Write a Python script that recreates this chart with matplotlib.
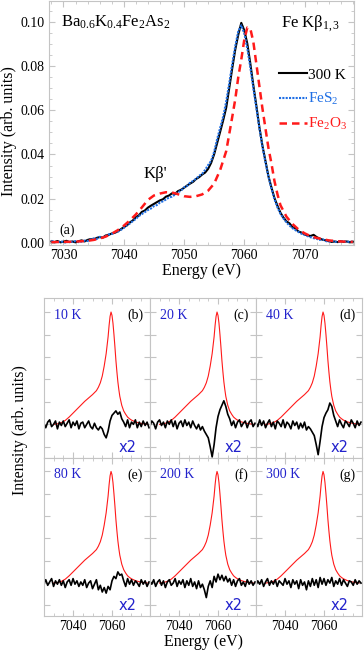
import numpy as np
import matplotlib
matplotlib.use("Agg")
import matplotlib.pyplot as plt
from matplotlib.ticker import MultipleLocator, NullFormatter

plt.rcParams["font.family"] = "serif"
plt.rcParams["font.serif"] = ["Liberation Serif", "DejaVu Serif"]
plt.rcParams["mathtext.fontset"] = "custom"
plt.rcParams["mathtext.rm"] = "Liberation Serif"
plt.rcParams["mathtext.it"] = "Liberation Serif:italic"

# ---- panel (a): Fe Kbeta spectra, 0.5 eV grid 7028..7078 ----
energy_a = np.arange(7028.0, 7078.01, 0.5)
bkfa_300K = [
    0.0006, 0.0003, 0.0008, 0.0002, 0.0005, 0.0009, 0.0003, 0.0006, 0.0002, 0.0007,
    0.0011, 0.0006, 0.0013, 0.0017, 0.0014, 0.0022, 0.0026, 0.0023, 0.0033, 0.0036,
    0.0042, 0.0045, 0.0052, 0.0061, 0.0071, 0.0078, 0.0092, 0.0101, 0.0116, 0.0124,
    0.0140, 0.0146, 0.0159, 0.0168, 0.0176, 0.0184, 0.0192, 0.0197, 0.0209, 0.0214,
    0.0224, 0.0221, 0.0234, 0.0240, 0.0249, 0.0259, 0.0268, 0.0276, 0.0289, 0.0297,
    0.0309, 0.0318, 0.0335, 0.0362, 0.0401, 0.0452, 0.0503, 0.0555, 0.0612, 0.0700,
    0.0790, 0.0875, 0.0942, 0.0996, 0.0962, 0.0902, 0.0812, 0.0713, 0.0621, 0.0524,
    0.0441, 0.0372, 0.0302, 0.0251, 0.0203, 0.0168, 0.0136, 0.0114, 0.0097, 0.0088,
    0.0071, 0.0064, 0.0051, 0.0046, 0.0038, 0.0033, 0.0031, 0.0036, 0.0026, 0.0019,
    0.0014, 0.0011, 0.0008, 0.0004, 0.0006, 0.0003, 0.0007, 0.0004, 0.0006, 0.0003,
    0.0005,
]
fes2 = [
    0.0009, 0.0004, 0.0002, 0.0007, 0.0003, 0.0001, 0.0006, 0.0004, 0.0008, 0.0003,
    0.0005, 0.0010, 0.0008, 0.0015, 0.0020, 0.0017, 0.0027, 0.0025, 0.0030, 0.0038,
    0.0040, 0.0047, 0.0050, 0.0058, 0.0067, 0.0080, 0.0087, 0.0098, 0.0108, 0.0121,
    0.0130, 0.0139, 0.0148, 0.0155, 0.0166, 0.0171, 0.0182, 0.0188, 0.0196, 0.0205,
    0.0209, 0.0218, 0.0229, 0.0236, 0.0251, 0.0257, 0.0272, 0.0280, 0.0290, 0.0303,
    0.0312, 0.0330, 0.0352, 0.0371, 0.0412, 0.0470, 0.0521, 0.0572, 0.0640, 0.0722,
    0.0810, 0.0890, 0.0958, 0.0985, 0.0948, 0.0880, 0.0795, 0.0700, 0.0610, 0.0520,
    0.0436, 0.0366, 0.0300, 0.0246, 0.0198, 0.0160, 0.0131, 0.0110, 0.0092, 0.0078,
    0.0066, 0.0057, 0.0049, 0.0041, 0.0036, 0.0030, 0.0025, 0.0021, 0.0018, 0.0013,
    0.0016, 0.0008, 0.0005, 0.0010, 0.0003, 0.0007, 0.0004, 0.0009, 0.0003, 0.0006,
    0.0004,
]
energy_fe2o3 = [
    7028, 7030, 7032, 7034, 7035, 7036, 7037, 7038, 7039, 7040, 7041, 7042, 7043,
    7044, 7045, 7046, 7047, 7048, 7049, 7050, 7051, 7052, 7053, 7054, 7055, 7056,
    7057, 7058, 7058.5, 7059, 7059.5, 7060, 7060.5, 7061, 7061.5, 7062, 7062.5,
    7063, 7063.5, 7064, 7064.5, 7065, 7065.5, 7066, 7067, 7068, 7069, 7070, 7071,
    7072, 7073, 7074, 7075, 7076, 7078,
]
fe2o3 = [
    0.0003, 0.0004, 0.0005, 0.0009, 0.0013, 0.0019, 0.0028, 0.0041, 0.0057, 0.0077,
    0.0101, 0.0128, 0.0160, 0.0194, 0.0214, 0.0223, 0.0229, 0.0228, 0.0220, 0.0211,
    0.0208, 0.0211, 0.0219, 0.0236, 0.0268, 0.0330, 0.0415, 0.0570, 0.0650, 0.0750,
    0.0830, 0.0920, 0.0975, 0.0970, 0.0910, 0.0810, 0.0710, 0.0610, 0.0520, 0.0430,
    0.0360, 0.0280, 0.0220, 0.0170, 0.0118, 0.0085, 0.0060, 0.0043, 0.0030, 0.0022,
    0.0016, 0.0011, 0.0008, 0.0006, 0.0004,
]

# ---- panels (b)-(g): normalised spectrum (red) and difference x2 (black) ----
energy_norm = [
    7030, 7032, 7034, 7036, 7038, 7040, 7042, 7044, 7046, 7048, 7050, 7052, 7053,
    7054, 7055, 7056, 7057, 7058, 7058.5, 7059, 7059.5, 7060, 7060.5, 7061, 7061.5,
    7062, 7062.5, 7063, 7063.5, 7064, 7064.5, 7065, 7066, 7067, 7068, 7069, 7070,
    7072, 7074, 7076, 7078,
]
spec_norm = [
    0.00, 0.005, 0.015, 0.035, 0.065, 0.10, 0.135, 0.17, 0.205, 0.235, 0.265, 0.30,
    0.33, 0.37, 0.43, 0.52, 0.63, 0.78, 0.88, 0.96, 1.00, 0.97, 0.90, 0.80, 0.69,
    0.57, 0.47, 0.38, 0.31, 0.25, 0.21, 0.17, 0.12, 0.09, 0.065, 0.05, 0.038, 0.022,
    0.012, 0.005, 0.002,
]
energy_diff = np.arange(7025, 7080)
diff = {
    "10 K": [
        0.01, -0.03, 0.02, 0.04, -0.02, 0.00, 0.03, -0.04, 0.02, -0.01,
        0.03, -0.02, 0.01, 0.04, -0.03, 0.02, -0.01, 0.03, -0.04, 0.01,
        0.02, -0.03, 0.00, 0.03, -0.02, -0.04, 0.01, -0.03, -0.05, -0.02,
        -0.04, -0.09, -0.12, -0.06, 0.03, 0.08, 0.10, 0.12, 0.09, 0.11,
        0.05, 0.02, -0.02, 0.04, -0.03, 0.02, 0.00, 0.04, -0.03, 0.02,
        -0.02, 0.03, -0.01, 0.02, -0.03,
    ],
    "20 K": [
        -0.02, 0.03, 0.01, -0.04, 0.02, 0.04, -0.01, 0.02, -0.03, 0.03,
        0.00, 0.04, -0.02, 0.03, -0.04, 0.01, 0.03, -0.02, 0.04, -0.01,
        0.02, -0.03, 0.03, -0.01, -0.04, 0.00, -0.05, -0.02, -0.06, -0.09,
        -0.12, -0.20, -0.29, -0.18, -0.03, 0.07, 0.13, 0.17, 0.21, 0.16,
        0.09, 0.05, -0.01, 0.03, -0.03, 0.02, 0.04, -0.02, 0.01, 0.03,
        -0.03, 0.02, 0.04, -0.02, 0.01,
    ],
    "40 K": [
        0.02, -0.02, 0.04, -0.01, 0.03, -0.03, 0.01, 0.04, -0.02, 0.02,
        -0.04, 0.03, 0.01, -0.02, 0.04, -0.03, 0.02, 0.00, -0.04, 0.03,
        -0.01, 0.02, -0.04, 0.01, -0.03, 0.02, -0.05, -0.02, -0.04, -0.07,
        -0.10, -0.18, -0.27, -0.15, -0.02, 0.06, 0.10, 0.13, 0.19, 0.16,
        0.08, 0.03, -0.02, 0.04, 0.00, -0.03, 0.03, 0.01, -0.02, 0.04,
        0.01, -0.03, 0.03, -0.01, 0.02,
    ],
    "80 K": [
        -0.01, 0.03, -0.02, 0.01, 0.04, -0.03, 0.02, -0.01, 0.03, -0.02,
        0.02, -0.04, 0.01, 0.03, -0.02, 0.04, -0.01, 0.02, -0.03, 0.01,
        -0.02, 0.03, -0.04, 0.00, 0.02, -0.05, -0.01, 0.03, -0.06, -0.02,
        -0.08, -0.04, -0.09, -0.03, -0.06, 0.02, 0.06, 0.04, 0.10, 0.07,
        0.08, 0.02, -0.03, 0.04, -0.01, 0.03, -0.02, 0.02, 0.00, -0.03,
        0.03, -0.01, 0.02, -0.03, 0.01,
    ],
    "200 K": [
        0.02, -0.01, 0.03, -0.03, 0.01, 0.03, -0.02, 0.02, -0.04, 0.01,
        0.03, -0.02, 0.00, 0.04, -0.03, 0.02, -0.01, 0.03, -0.04, 0.02,
        -0.02, 0.04, -0.03, 0.01, -0.05, 0.02, -0.04, -0.01, -0.06, -0.13,
        -0.03, 0.02, -0.04, 0.06, 0.01, 0.08, 0.03, 0.07, 0.02, 0.06,
        0.01, 0.04, -0.02, 0.03, -0.03, 0.02, 0.04, -0.02, 0.01, -0.03,
        0.03, -0.01, 0.02, -0.02, 0.01,
    ],
    "300 K": [
        -0.02, 0.02, -0.01, 0.03, -0.03, 0.01, 0.04, -0.02, 0.02, -0.01,
        0.03, -0.03, 0.02, 0.00, -0.02, 0.04, -0.01, 0.02, -0.04, 0.03,
        -0.01, 0.02, -0.05, 0.03, -0.02, 0.01, -0.06, 0.02, -0.03, 0.04,
        -0.02, 0.03, -0.04, 0.05, -0.01, 0.04, -0.02, 0.03, 0.00, 0.05,
        -0.03, 0.02, -0.01, 0.04, -0.02, 0.03, 0.00, -0.03, 0.02, 0.01,
        -0.02, 0.03, -0.01, 0.02, 0.00,
    ],
}
panel_tags = ["(b)", "(c)", "(d)", "(e)", "(f)", "(g)"]

W, H = 364, 653
fig = plt.figure(figsize=(W / 100, H / 100), dpi=100)
FRAME = "#c4c4c4"
BLUE_TXT = "#2222cc"


def px_axes(left, top, right, bottom):
    return fig.add_axes([left / W, 1 - bottom / H, (right - left) / W, (bottom - top) / H])


def style(ax):
    for s in ax.spines.values():
        s.set_color(FRAME)
    ax.tick_params(which="both", direction="in", top=True, right=True, color=FRAME,
                   labelsize=10, pad=3)
    ax.tick_params(which="major", length=4)
    ax.tick_params(which="minor", length=2)


# top panel
ax = px_axes(49, 1, 354, 245)
style(ax)
ax.plot(energy_a, bkfa_300K, color="black", lw=1.5, label="300 K")
ax.plot(energy_a, fes2, color="#1f6fe5", lw=1.5, ls=(0, (1, 0.6)), label="FeS$_2$")
ax.plot(energy_fe2o3, fe2o3, color="#ff1a1a", lw=1.8, ls=(0, (3, 2)), label="Fe$_2$O$_3$")
ax.set_xlim(7027.6, 7078.2)
ax.set_ylim(-0.001, 0.1095)
ax.xaxis.set_major_locator(MultipleLocator(10))
ax.xaxis.set_minor_locator(MultipleLocator(2))
ax.yaxis.set_major_locator(MultipleLocator(0.02))
ax.yaxis.set_minor_locator(MultipleLocator(0.005))
ax.yaxis.set_major_formatter(matplotlib.ticker.FormatStrFormatter("%.2f"))
leg = ax.legend(loc="upper left", bbox_to_anchor=(0.755, 0.725), frameon=False,
                fontsize=11, handlelength=1.8, handletextpad=0.1, labelspacing=0.6,
                borderpad=0, borderaxespad=0)
for t, c in zip(leg.get_texts(), ["black", "#1f6fe5", "#ff1a1a"]):
    t.set_color(c)
ax.text(0.04, 0.95, r"Ba$_{0.6}$K$_{0.4}$Fe$_2$As$_2$", transform=ax.transAxes,
        fontsize=12, va="top", ha="left")
ax.text(0.76, 0.95, r"Fe Kβ$_{1,3}$", transform=ax.transAxes, fontsize=12,
        va="top", ha="left")
ax.text(7045.2, 0.031, "Kβ'", fontsize=12, ha="center", va="center")
ax.text(7030.6, 0.0057, "(a)", fontsize=10, ha="center", va="center")
fig.text(202 / W, 1 - 271 / H, "Energy (eV)", fontsize=11.5, ha="center", va="center")
fig.text(9 / W, 1 - 131 / H, "Intensity (arb. units)", fontsize=11.5, ha="center",
         va="center", rotation=90)

# bottom 2x3 grid
col_edges = [44, 150, 256, 362]
row_edges = [298, 457.5, 616]
temps = list(diff.keys())
for i, temp in enumerate(temps):
    r, c = divmod(i, 3)
    a = px_axes(col_edges[c], row_edges[r], col_edges[c + 1], row_edges[r + 1])
    style(a)
    a.plot(energy_norm, spec_norm, color="#ff1a1a", lw=0.8)
    a.plot(energy_diff, diff[temp], color="black", lw=1.2)
    a.set_xlim(7025.1, 7079.5)
    a.set_ylim(-0.295, 1.125)
    a.xaxis.set_major_locator(MultipleLocator(20))
    a.xaxis.set_minor_locator(MultipleLocator(5))
    a.yaxis.set_major_locator(MultipleLocator(0.2))
    a.yaxis.set_major_formatter(NullFormatter())
    if r == 0:
        a.xaxis.set_major_formatter(NullFormatter())
    a.text(0.09, 0.89, temp, transform=a.transAxes, color=BLUE_TXT, fontsize=10,
           va="center", ha="left")
    a.text(0.86, 0.89, panel_tags[i], transform=a.transAxes, fontsize=10,
           va="center", ha="center")
    a.text(0.79, 0.065, "x2", transform=a.transAxes, color=BLUE_TXT, fontsize=10.5,
           va="center", ha="center", family="DejaVu Sans")

fig.text(203 / W, 1 - 642 / H, "Energy (eV)", fontsize=11.5, ha="center", va="center")
fig.text(20 / W, 1 - 430 / H, "Intensity (arb. units)", fontsize=11.5, ha="center",
         va="center", rotation=90)

fig.savefig("out.png", dpi=100)
